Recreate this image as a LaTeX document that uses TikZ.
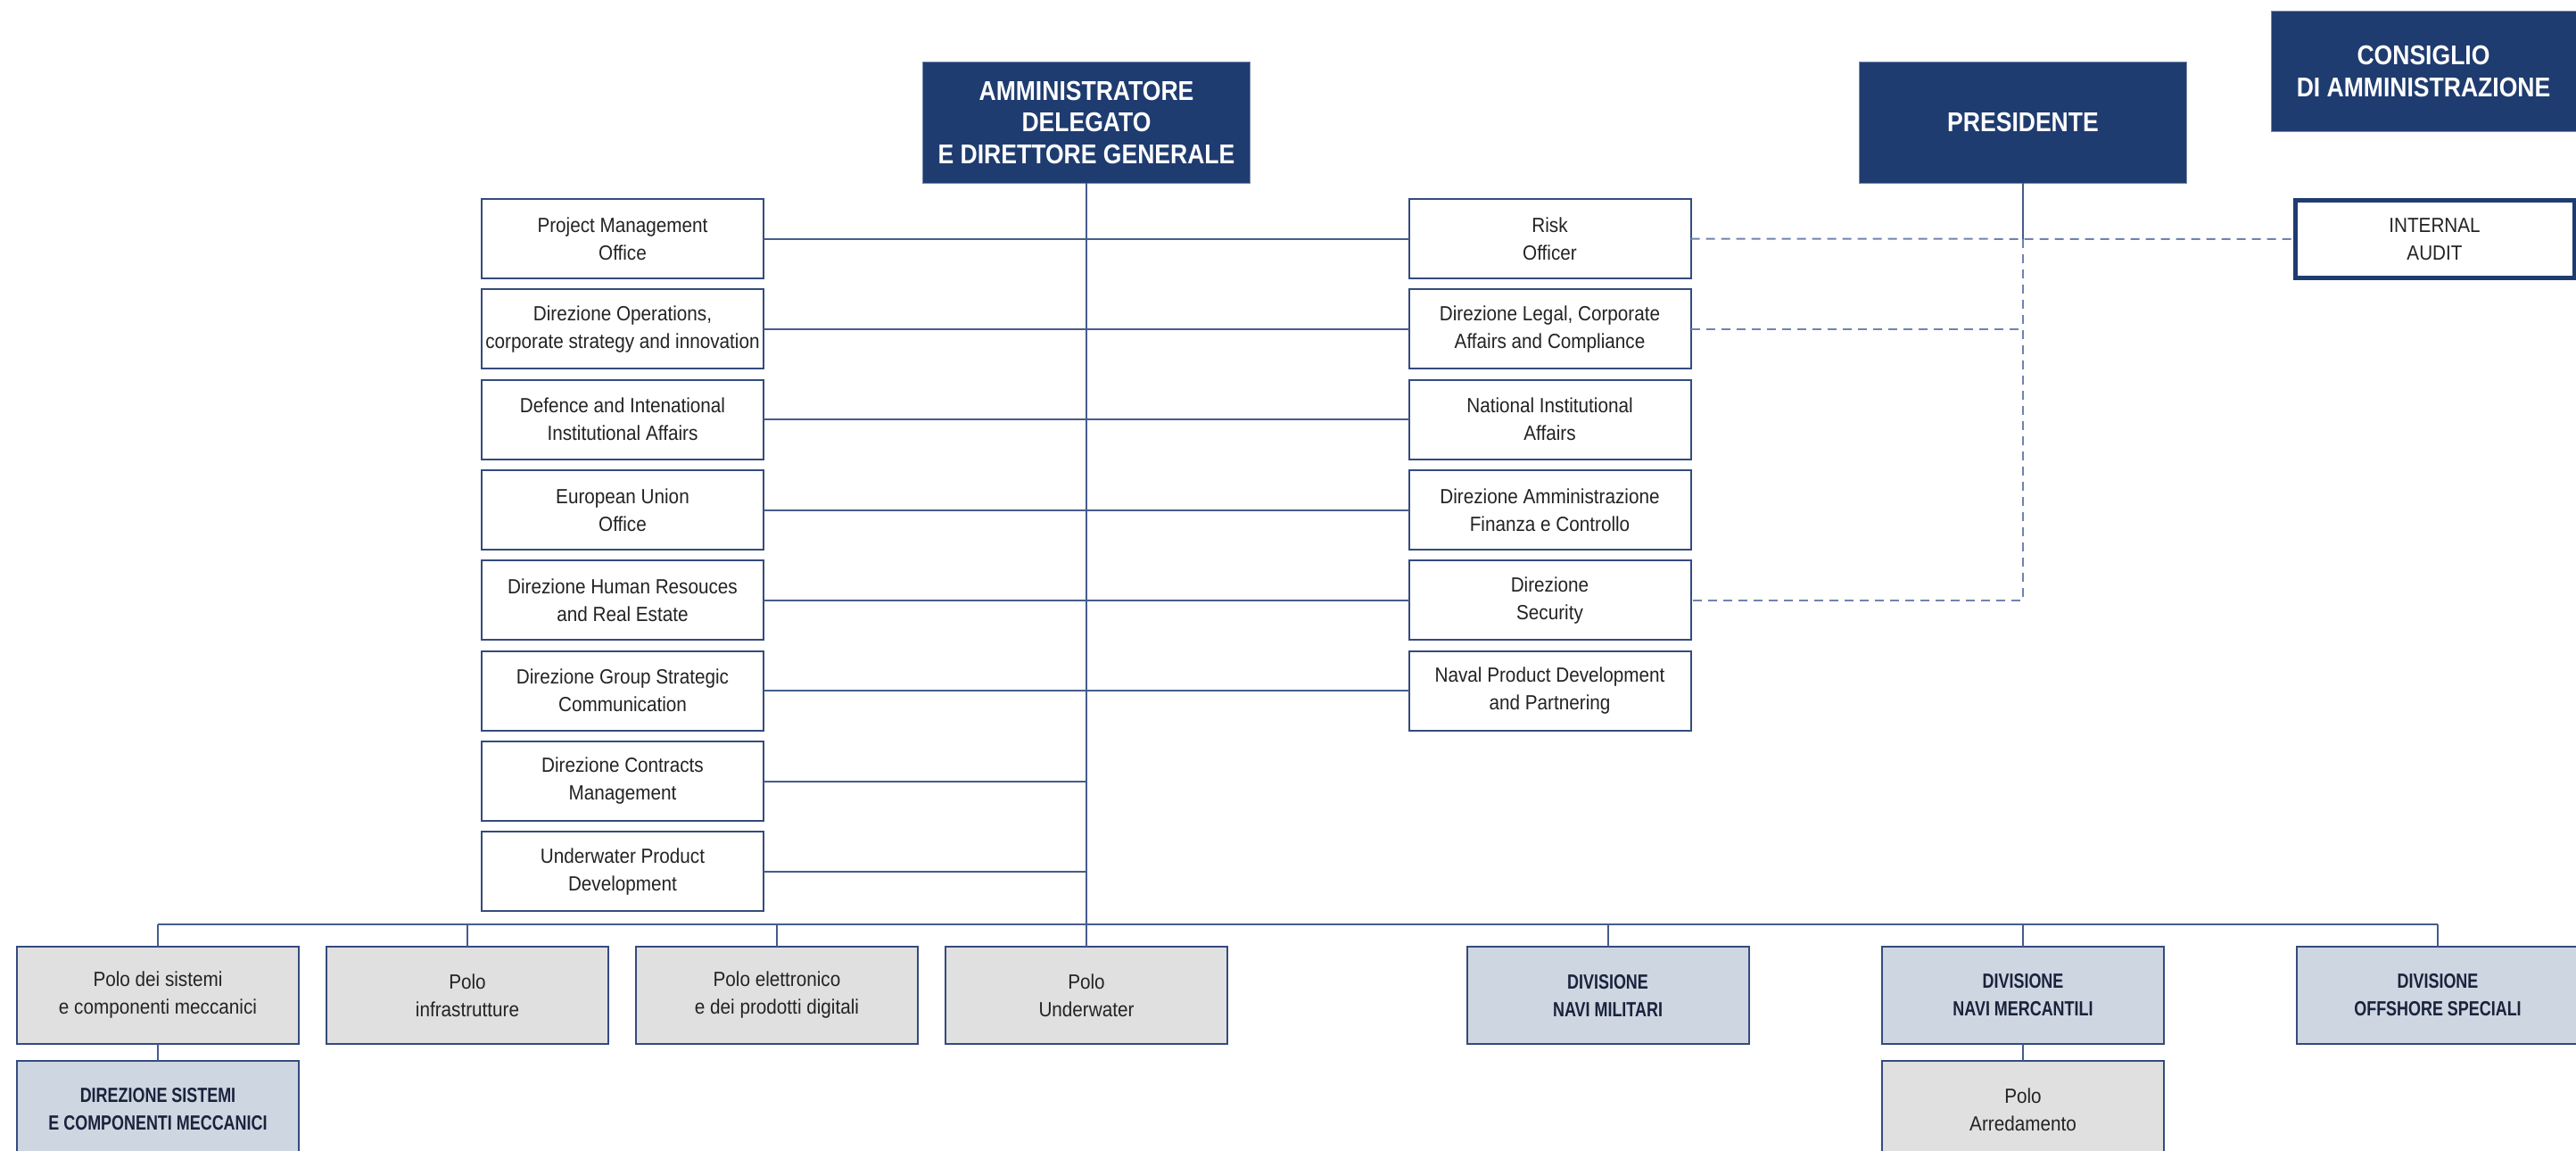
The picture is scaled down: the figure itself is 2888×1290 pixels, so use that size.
\documentclass[tikz,border=0pt]{standalone}
\usepackage{fontspec}
\setmainfont{Liberation Sans}[FakeStretch=0.9]
\newfontfamily\ttlfont{Liberation Sans}[FakeStretch=0.87]
\newfontfamily\divfont{Liberation Sans}[FakeStretch=0.78]
\definecolor{navy}{RGB}{31,60,112}
\definecolor{boxline}{RGB}{52,75,125}
\definecolor{linecol}{RGB}{70,92,140}
\definecolor{dashcol}{RGB}{110,132,175}
\definecolor{txt}{RGB}{35,35,35}
\definecolor{divtxt}{RGB}{25,35,60}
\definecolor{polofill}{RGB}{224,224,224}
\definecolor{divfill}{RGB}{206,214,225}
\begin{document}
\begin{tikzpicture}[x=1pt,y=-1pt,
  every node/.style={inner sep=0pt, outer sep=0pt},
  topbox/.style={fill=navy, draw=navy!60!white, line width=1pt, text=white,
    font=\ttlfont\bfseries\fontsize{30.5}{35.5}\selectfont, align=center,
    minimum width=367pt, minimum height=135pt},
  officebox/.style={draw=boxline, line width=2pt, fill=white, text=txt,
    font=\fontsize{23}{31}\selectfont, align=center,
    minimum width=316pt, minimum height=89pt},
  polobox/.style={officebox, fill=polofill, minimum height=109pt},
  divbox/.style={polobox, fill=divfill, text=divtxt,
    font=\divfont\bfseries\fontsize{23}{31}\selectfont},
  link/.style={draw=linecol, line width=2pt},
  dlink/.style={draw=dashcol, line width=2pt, dash pattern=on 10pt off 7pt},
]
\useasboundingbox (0,0) rectangle (2888,1290);

% top boxes
\node[topbox] (ad) at (1218,137.5) {AMMINISTRATORE\\DELEGATO\\E DIRETTORE GENERALE};
\node[topbox] (pres) at (2268,137.5) {PRESIDENTE};
\node[topbox, minimum width=342pt] (cda) at (2717,80) {CONSIGLIO\\DI AMMINISTRAZIONE};

% staff columns
\node[officebox] (l1) at (698,267.5) {Project Management\\Office};
\node[officebox] (l2) at (698,368.8) {Direzione Operations,\\corporate strategy and innovation};
\node[officebox] (l3) at (698,470.1) {Defence and Intenational\\Institutional Affairs};
\node[officebox] (l4) at (698,571.5) {European Union\\Office};
\node[officebox] (l5) at (698,672.8) {Direzione Human Resouces\\and Real Estate};
\node[officebox] (l6) at (698,774.1) {Direzione Group Strategic\\Communication};
\node[officebox] (l7) at (698,875.5) {Direzione Contracts\\Management};
\node[officebox] (l8) at (698,976.8) {Underwater Product\\Development};

\node[officebox] (r1) at (1737.5,267.5) {Risk\\Officer};
\node[officebox] (r2) at (1737.5,368.8) {Direzione Legal, Corporate\\Affairs and Compliance};
\node[officebox] (r3) at (1737.5,470.1) {National Institutional\\Affairs};
\node[officebox] (r4) at (1737.5,571.5) {Direzione Amministrazione\\Finanza e Controllo};
\node[officebox] (r5) at (1737.5,672.8) {Direzione\\Security};
\node[officebox] (r6) at (1737.5,774.1) {Naval Product Development\\and Partnering};

\node[officebox, draw=navy, line width=5pt, minimum width=313pt, minimum height=87pt] (ia) at (2729.5,268) {INTERNAL\\AUDIT};

% bottom level
\node[polobox] (p1) at (177,1115.5) {Polo dei sistemi\\e componenti meccanici};
\node[polobox] (p2) at (524,1115.5) {Polo\\infrastrutture};
\node[polobox] (p3) at (871,1115.5) {Polo elettronico\\e dei prodotti digitali};
\node[polobox] (p4) at (1218,1115.5) {Polo\\Underwater};
\node[divbox] (d1) at (1802.5,1115.5) {DIVISIONE\\NAVI MILITARI};
\node[divbox] (d2) at (2268,1115.5) {DIVISIONE\\NAVI MERCANTILI};
\node[divbox] (d3) at (2733,1115.5) {DIVISIONE\\OFFSHORE SPECIALI};

\node[divbox] (s1) at (177,1243.5) {DIREZIONE SISTEMI\\E COMPONENTI MECCANICI};
\node[polobox] (s2) at (2268,1243.5) {Polo\\Arredamento};

% connectors
\coordinate (bus) at (1218,1036);
\draw[link] (ad.south) -- (bus);
\draw[link] (p1.north |- bus) -- (d3.north |- bus);
\foreach \n in {p1,p2,p3,p4,d1,d2,d3} {\draw[link] (\n.north |- bus) -- (\n.north);}
\draw[link] (p1.south) -- (s1.north);
\draw[link] (d2.south) -- (s2.north);
\foreach \i in {1,...,6} {\draw[link] (l\i.east) -- (r\i.west);}
\draw[link] (l7.east) -- (l7.east -| ad.south);
\draw[link] (l8.east) -- (l8.east -| ad.south);

\draw[link] (pres.south) -- (pres.south |- r1.east);
\draw[dlink] (r1.east) -- (ia.west);
\draw[dlink] (pres.south |- r1.east) -- (pres.south |- r5.east) -- (r5.east);
\draw[dlink] (r2.east) -- (r2.east -| pres.south);
\end{tikzpicture}
\end{document}
